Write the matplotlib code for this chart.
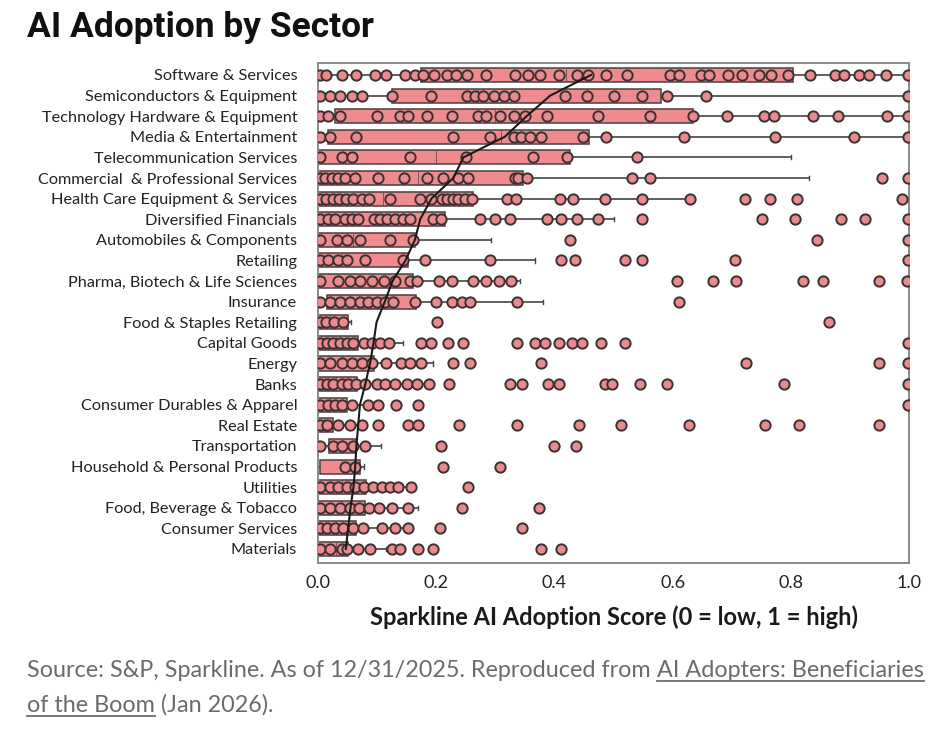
import matplotlib
matplotlib.use("Agg")
import matplotlib.pyplot as plt
from matplotlib.patches import Rectangle
from matplotlib import font_manager as fm
from matplotlib.lines import Line2D

sectors = [
    "Software & Services", "Semiconductors & Equipment", "Technology Hardware & Equipment",
    "Media & Entertainment", "Telecommunication Services", "Commercial  & Professional Services",
    "Health Care Equipment & Services", "Diversified Financials", "Automobiles & Components",
    "Retailing", "Pharma, Biotech & Life Sciences", "Insurance", "Food & Staples Retailing",
    "Capital Goods", "Energy", "Banks", "Consumer Durables & Apparel", "Real Estate",
    "Transportation", "Household & Personal Products", "Utilities", "Food, Beverage & Tobacco",
    "Consumer Services", "Materials",
]

q1 = [0.175, 0.125, 0.029, 0.017, 0.0, 0.0, 0.0, 0.0, 0.0, 0.0, 0.0, 0.015,
      0.0, 0.0, 0.0, 0.0, 0.0, 0.0, 0.019, 0.003, 0.0, 0.0, 0.0, 0.0]
q3 = [0.804, 0.580, 0.635, 0.459, 0.426, 0.347, 0.263, 0.215, 0.164, 0.153, 0.161, 0.166,
      0.051, 0.068, 0.094, 0.066, 0.049, 0.025, 0.065, 0.071, 0.082, 0.080, 0.065, 0.051]
medians = [0.42, 0.271, 0.30, 0.309, 0.20, 0.17, 0.11, 0.10, 0.06, 0.04, 0.07, 0.07,
           0.02, 0.03, 0.04, 0.03, 0.02, 0.01, 0.04, 0.04, 0.04, 0.04, 0.03, 0.03]
whisk_lo = [0.0] * 24
whisk_hi = [1.0, 1.0, 1.0, 1.0, 0.800, 0.831, 0.629, 0.500, 0.293, 0.367, 0.341, 0.381,
            0.055, 0.143, 0.194, 0.190, 0.100, 0.070, 0.107, 0.077, 0.160, 0.170, 0.152, 0.115]
trend = [0.462, 0.393, 0.353, 0.316, 0.246, 0.229, 0.192, 0.173, 0.164, 0.148, 0.126, 0.113,
         0.099, 0.094, 0.088, 0.080, 0.071, 0.068, 0.065, 0.063, 0.060, 0.055, 0.051, 0.047]

points = [
    [0.003, 0.014, 0.040, 0.065, 0.096, 0.115, 0.147, 0.164, 0.178, 0.196, 0.218, 0.233, 0.252,
     0.285, 0.333, 0.356, 0.376, 0.407, 0.438, 0.457, 0.488, 0.522, 0.596, 0.610, 0.648, 0.662,
     0.693, 0.718, 0.746, 0.767, 0.795, 0.833, 0.875, 0.890, 0.916, 0.933, 0.961, 0.999],
    [0.003, 0.020, 0.037, 0.057, 0.074, 0.125, 0.192, 0.252, 0.266, 0.280, 0.298, 0.315, 0.331,
     0.418, 0.455, 0.500, 0.549, 0.591, 0.657, 0.999],
    [0.003, 0.017, 0.037, 0.099, 0.138, 0.153, 0.184, 0.226, 0.271, 0.285, 0.308, 0.331, 0.350,
     0.387, 0.474, 0.562, 0.634, 0.692, 0.755, 0.772, 0.838, 0.880, 0.962, 0.999],
    [0.003, 0.021, 0.065, 0.229, 0.291, 0.331, 0.343, 0.358, 0.378, 0.449, 0.487, 0.619, 0.774,
     0.907, 0.999],
    [0.003, 0.040, 0.057, 0.155, 0.250, 0.364, 0.421, 0.539],
    [0.003, 0.012, 0.023, 0.034, 0.046, 0.063, 0.102, 0.146, 0.184, 0.212, 0.237, 0.254, 0.333,
     0.339, 0.353, 0.531, 0.562, 0.955, 0.999],
    [0.003, 0.014, 0.025, 0.036, 0.047, 0.060, 0.074, 0.087, 0.122, 0.173, 0.192, 0.209, 0.218,
     0.228, 0.237, 0.249, 0.260, 0.319, 0.335, 0.409, 0.432, 0.486, 0.548, 0.629, 0.722, 0.765,
     0.810, 0.988],
    [0.003, 0.017, 0.029, 0.046, 0.057, 0.068, 0.094, 0.105, 0.117, 0.130, 0.143, 0.155, 0.195,
     0.208, 0.274, 0.299, 0.325, 0.387, 0.411, 0.438, 0.474, 0.549, 0.752, 0.807, 0.885, 0.926,
     0.999],
    [0.003, 0.032, 0.049, 0.071, 0.122, 0.161, 0.426, 0.845, 0.999],
    [0.003, 0.017, 0.034, 0.049, 0.080, 0.144, 0.181, 0.291, 0.412, 0.435, 0.519, 0.548, 0.706,
     0.999],
    [0.003, 0.034, 0.054, 0.071, 0.091, 0.112, 0.130, 0.156, 0.167, 0.204, 0.226, 0.263, 0.285,
     0.306, 0.327, 0.607, 0.668, 0.707, 0.821, 0.855, 0.949, 0.996],
    [0.003, 0.020, 0.037, 0.054, 0.071, 0.085, 0.099, 0.113, 0.127, 0.164, 0.200, 0.226, 0.243,
     0.257, 0.336, 0.611],
    [0.003, 0.014, 0.027, 0.042, 0.201, 0.864],
    [0.003, 0.015, 0.026, 0.037, 0.049, 0.060, 0.077, 0.091, 0.105, 0.120, 0.175, 0.191, 0.220,
     0.245, 0.336, 0.367, 0.384, 0.407, 0.429, 0.447, 0.479, 0.519, 0.999],
    [0.003, 0.020, 0.040, 0.057, 0.074, 0.091, 0.115, 0.140, 0.156, 0.175, 0.229, 0.257, 0.377,
     0.725, 0.949, 0.999],
    [0.003, 0.015, 0.026, 0.040, 0.051, 0.065, 0.080, 0.099, 0.113, 0.130, 0.150, 0.168, 0.188,
     0.222, 0.325, 0.345, 0.390, 0.407, 0.486, 0.497, 0.545, 0.590, 0.789, 0.999],
    [0.003, 0.017, 0.029, 0.040, 0.057, 0.085, 0.102, 0.132, 0.170, 0.999],
    [0.003, 0.015, 0.034, 0.054, 0.074, 0.102, 0.153, 0.170, 0.239, 0.336, 0.442, 0.513, 0.627,
     0.756, 0.814, 0.949],
    [0.003, 0.025, 0.040, 0.060, 0.080, 0.208, 0.400, 0.436],
    [0.046, 0.063, 0.212, 0.308],
    [0.003, 0.020, 0.034, 0.049, 0.063, 0.077, 0.093, 0.108, 0.122, 0.136, 0.157, 0.253],
    [0.003, 0.020, 0.037, 0.054, 0.070, 0.087, 0.104, 0.125, 0.152, 0.244, 0.374],
    [0.003, 0.015, 0.029, 0.043, 0.060, 0.076, 0.108, 0.130, 0.152, 0.206, 0.346],
    [0.003, 0.020, 0.040, 0.049, 0.068, 0.088, 0.125, 0.139, 0.170, 0.195, 0.377, 0.411],
]

xticks = [0.0, 0.2, 0.4, 0.6, 0.8, 1.0]
xtick_labels = ["0.0", "0.2", "0.4", "0.6", "0.8", "1.0"]

title = "AI Adoption by Sector"
xlabel = "Sparkline AI Adoption Score (0 = low, 1 = high)"

available = {f.name for f in fm.fontManager.ttflist}
body_font = "Lato" if "Lato" in available else "DejaVu Sans"
title_font = "Roboto" if "Roboto" in available else "DejaVu Sans"

W, H = 946, 734
fig = plt.figure(figsize=(W / 100, H / 100), dpi=100)
fig.patch.set_facecolor("white")
ax = fig.add_axes([318 / W, 1 - 563 / H, 591 / W, 500 / H])

box_fill = "#ef8b8c"
pt_fill = "#e98a8f"
edge = "#3d3030"
box_h = 0.68

n = len(sectors)
for i in range(n):
    ax.plot([whisk_lo[i], whisk_hi[i]], [i, i], color="#444444", lw=1.2, zorder=1,
            solid_capstyle="butt")
    if whisk_hi[i] < 0.999:
        ax.plot([whisk_hi[i], whisk_hi[i]], [i - 0.1, i + 0.1], color="#444444", lw=1.0, zorder=1)
    ax.add_patch(Rectangle((q1[i], i - box_h / 2), q3[i] - q1[i], box_h,
                           facecolor=box_fill, edgecolor="#4a4040", lw=1.1, zorder=2))
    ax.plot([medians[i], medians[i]], [i - box_h / 2, i + box_h / 2], color="#6a5050",
            lw=0.6, zorder=2.5)
    ax.plot(points[i], [i] * len(points[i]), linestyle="none", marker="o", markersize=7.4,
            markerfacecolor=pt_fill, markeredgecolor=edge, markeredgewidth=1.4, zorder=3)

ax.plot(trend, list(range(n)), color="#1a1a1a", lw=1.5, zorder=4)

ax.set_xlim(0, 1.0)
ax.set_ylim(n - 1 + 0.68, -0.58)
ax.set_yticks(range(n))
ax.set_yticklabels(sectors, fontfamily=body_font, fontsize=11.7, color="#222222")
ax.set_xticks(xticks)
ax.set_xticklabels(xtick_labels, fontfamily=body_font, fontsize=13, color="#222222")
ax.tick_params(axis="y", length=0, pad=15)
ax.tick_params(axis="x", length=0, pad=9)
for s in ax.spines.values():
    s.set_color("#8a8a8a")
    s.set_linewidth(1.4)
ax.set_xlabel(xlabel, fontfamily=body_font, fontsize=17, fontweight="bold",
              color="#1a1a1a", labelpad=10)

fig.text(27 / W, 1 - 27 / H, title, fontfamily=title_font, fontsize=25.5, fontweight="bold",
         color="#111111", va="center", ha="left")

# Source note with underlined link parts
src_color = "#6b6b6b"
fig.canvas.draw()
renderer = fig.canvas.get_renderer()

def put(x_px, y_px, s, underline=False):
    t = fig.text(x_px / W, 1 - y_px / H, s, fontfamily=body_font, fontsize=16.8,
                 color=src_color, va="baseline", ha="left")
    bb = t.get_window_extent(renderer)
    if underline:
        yy = 1 - (y_px + 4) / H
        fig.add_artist(Line2D([bb.x0 / W, bb.x1 / W], [yy, yy], color=src_color, lw=1.3))
    return bb.x1

x1 = put(27, 677, "Source: S&P, Sparkline. As of 12/31/2025. Reproduced from ")
put(x1, 677, "AI Adopters: Beneficiaries", underline=True)
x2 = put(27, 712, "of the Boom", underline=True)
put(x2, 712, " (Jan 2026).")

fig.savefig("out.png", dpi=100, facecolor="white")
